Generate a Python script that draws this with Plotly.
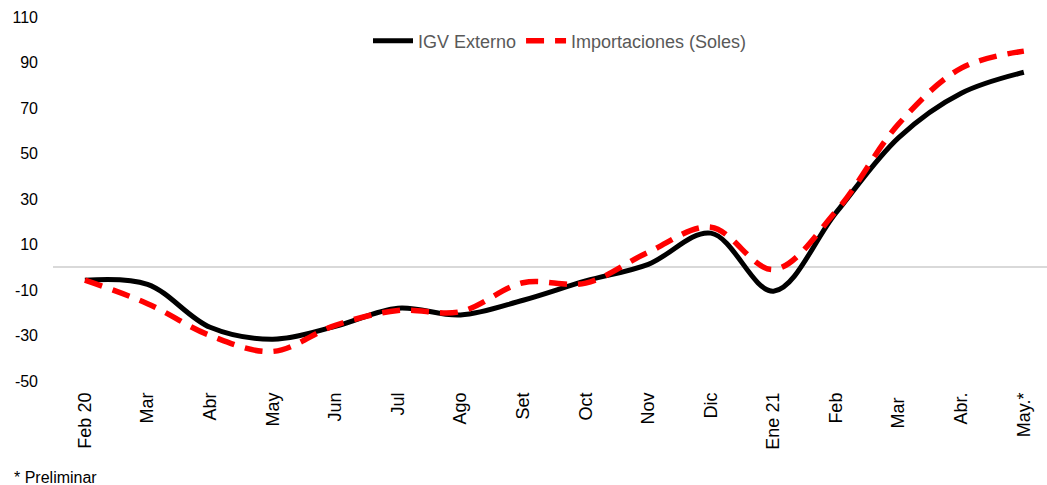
import plotly.graph_objects as go

categories = ["Feb 20", "Mar", "Abr", "May", "Jun", "Jul", "Ago", "Set", "Oct",
              "Nov", "Dic", "Ene 21", "Feb", "Mar ", "Abr.", "May.*"]
igv_externo = [-5.7, -7.5, -26.4, -31.6, -26.0, -18.0, -21.0, -14.5, -6.0,
               1.3, 15.0, -10.5, 24.0, 57.0, 76.5, 85.7]
importaciones = [-5.7, -16.0, -30.0, -37.0, -25.5, -19.0, -19.5, -6.8, -7.0,
                 6.6, 17.6, -1.0, 24.6, 63.0, 87.5, 95.0]
y_ticks = [-50, -30, -10, 10, 30, 50, 70, 90, 110]

font_family = "Liberation Sans, Arial, sans-serif"

M_L, M_R, M_T, M_B = 53, 0, 17, 104
W, H = 1047, 485
plot_w = W - M_L - M_R
plot_h = H - M_T - M_B

fig = go.Figure()
fig.add_trace(go.Scatter(
    x=categories, y=igv_externo, name="IGV Externo", mode="lines",
    line=dict(color="#000000", width=5, shape="spline", smoothing=1.0),
))
fig.add_trace(go.Scatter(
    x=categories, y=importaciones, name="Importaciones (Soles)", mode="lines",
    line=dict(color="#ff0000", width=5.5, dash="18px,11px", shape="spline", smoothing=1.0),
))

fig.update_layout(
    width=W, height=H,
    margin=dict(l=M_L, r=M_R, t=M_T, b=M_B, autoexpand=False),
    plot_bgcolor="white", paper_bgcolor="white",
    font=dict(family=font_family, size=16, color="#000000"),
    showlegend=True,
    legend=dict(orientation="h", x=(560 - M_L) / plot_w, xanchor="center",
                y=(H - M_B - 41) / plot_h, yanchor="middle",
                font=dict(size=18, color="#595959"), bgcolor="rgba(0,0,0,0)",
                itemwidth=40, tracegroupgap=0),
    xaxis=dict(
        type="category", range=[-0.51, 15.37], tickangle=-90, automargin=False,
        ticklabelstandoff=7,
        showgrid=False, showline=False, zeroline=False, ticks="",
        tickfont=dict(size=18, color="#000000"),
    ),
    yaxis=dict(
        range=[-50, 110], tickvals=y_ticks, ticktext=[str(v) for v in y_ticks],
        automargin=False, ticklabelstandoff=14,
        showgrid=False, showline=False, zeroline=True, zerolinecolor="#d9d9d9",
        zerolinewidth=1.5, ticks="", tickfont=dict(size=16, color="#000000"),
    ),
    annotations=[dict(
        text="* Preliminar", xref="paper", yref="paper",
        x=(12 - M_L) / plot_w, y=(H - M_B - 477) / plot_h,
        xanchor="left", yanchor="middle",
        showarrow=False, font=dict(size=16, color="#000000"),
    )],
)

fig.write_html(
    "out.html",
    config={"displayModeBar": False},
    post_script="document.body.style.margin='0';document.body.style.overflow='hidden';",
)
